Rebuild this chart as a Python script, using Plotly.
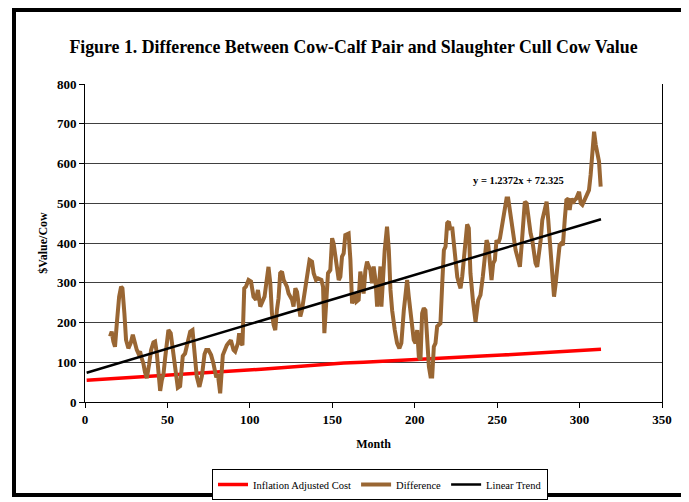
import numpy as np
import plotly.graph_objects as go

# ---------------- data ----------------
diff_months = [
    15.2, 16.2, 17.2, 18.2, 19.3, 20.7, 21.9, 22.7, 23.9, 24.9, 26.3, 27.7, 29.0, 30.0,
    31.4, 32.4, 33.4, 34.4, 35.4, 36.4, 37.5, 38.9, 40.1, 41.5, 42.5, 43.5, 44.5, 45.6,
    46.6, 47.6, 48.6, 49.6, 50.6, 52.0, 53.6, 55.0, 56.3, 57.7, 59.3, 60.7, 62.1, 63.8,
    65.2, 66.4, 67.8, 69.4, 70.9, 72.5, 73.5, 74.9, 76.5, 77.9, 79.6, 80.6, 82.0, 83.6,
    84.5, 86.0, 87.0, 88.5, 90.1, 91.1, 92.8, 93.5, 94.6, 95.5, 96.6, 97.6, 99.2, 100.7,
    102.2, 103.7, 104.9, 106.3, 108.9, 110.4, 111.3, 112.4, 113.4, 114.4, 115.4, 116.4,
    117.4, 118.4, 119.5, 120.5, 121.5, 122.5, 123.5, 124.5, 125.6, 126.5, 127.6, 128.6,
    130.6, 131.6, 133.0, 134.7, 136.2, 137.7, 138.7, 140.1, 141.3, 143.4, 144.4, 145.2,
    146.2, 147.4, 148.8, 149.9, 150.8, 151.9, 153.9, 154.9, 155.9, 156.9, 157.9, 159.9,
    161.0, 162.0, 163.6, 164.6, 166.0, 167.0, 168.0, 169.0, 170.1, 171.1, 172.1, 173.1,
    174.1, 175.1, 176.2, 177.2, 178.2, 179.2, 179.8, 180.6, 181.8, 183.2, 184.3, 185.3,
    186.3, 187.9, 189.3, 190.7, 191.9, 193.4, 194.4, 195.4, 196.4, 197.4, 198.4, 199.4,
    200.5, 201.5, 202.5, 203.5, 204.5, 205.5, 206.5, 207.5, 208.6, 209.6, 210.6, 211.6,
    212.6, 213.6, 214.6, 215.6, 216.7, 217.7, 218.7, 219.7, 220.7, 221.7, 222.7, 223.7,
    224.8, 225.8, 226.8, 227.8, 228.8, 229.8, 230.8, 231.8, 232.8, 233.8, 235.3, 236.9,
    238.5, 239.9, 241.3, 242.5, 243.6, 244.6, 245.6, 246.6, 247.6, 248.6, 249.6, 250.6,
    251.7, 252.7, 253.7, 254.7, 255.7, 256.7, 257.7, 259.2, 261.2, 262.8, 263.8, 264.8,
    265.8, 266.8, 267.9, 268.9, 270.3, 271.3, 272.3, 273.3, 274.3, 275.4, 276.4, 277.4,
    278.8, 280.0, 281.0, 282.0, 283.5, 284.5, 285.5, 286.5, 287.9, 288.9, 289.9, 291.0,
    292.0, 293.2, 294.0, 295.0, 296.0, 297.0, 298.0, 299.7, 300.7, 301.7, 302.7, 303.7,
    304.7, 305.7, 306.7, 307.8, 308.8, 309.8, 310.8, 311.8, 312.8,
]
diff_values = [
    165, 177, 152, 139, 198, 265, 290, 286, 223, 156, 135, 148, 169, 148,
    131, 122, 127, 110, 97, 75, 60, 95, 131, 150, 152, 125, 75, 28,
    55, 70, 110, 160, 181, 173, 122, 60, 36, 40, 115, 122, 148, 177,
    181, 122, 64, 38, 65, 120, 131, 131, 118, 97, 62, 70, 22, 118,
    130, 143, 148, 155, 131, 127, 148, 173, 148, 143, 286, 290, 307, 303,
    265, 257, 282, 240, 265, 307, 340, 299, 223, 194, 181, 231,
    261, 324, 328, 307, 299, 290, 273, 265, 257, 240, 286, 277,
    215, 231, 265, 315, 357, 353, 324, 307, 311, 307, 290, 173,
    265, 324, 332, 412, 399, 366, 307, 315, 366, 374, 420, 424,
    357, 248, 273, 252, 257, 328, 299, 273, 332, 353, 341, 332,
    299, 341, 307, 240, 282, 341, 240, 315, 382, 441, 382, 282,
    231, 181, 148, 135, 148, 231, 269, 307, 265, 231, 190, 156,
    148, 181, 114, 106, 223, 236, 231, 139, 89, 64, 64, 139,
    148, 190, 194, 198, 299, 382, 391, 450, 454, 433, 441, 391,
    341, 315, 299, 286, 315, 357, 424, 447, 437, 324, 256, 202,
    256, 269, 315, 374, 407, 395, 349, 307, 349, 357, 407, 399,
    412, 441, 458, 483, 512, 512, 483, 424, 382, 357, 340, 391,
    458, 504, 500, 458, 424, 407, 378, 349, 340, 374, 407, 458,
    479, 504, 458, 399, 340, 265, 298, 340, 395, 399, 395, 458,
    508, 512, 483, 512, 500, 508, 512, 529, 500, 496, 504, 512,
    525, 533, 571, 642, 680, 647, 617, 605, 542,
]
infl_months = [1, 13, 25, 37, 49, 61, 73, 85, 97, 109, 121, 133, 145, 157,
               169, 181, 193, 205, 217, 229, 241, 253, 265, 277, 289, 301, 313]
infl_values = [55, 57, 61, 64, 67, 70, 72, 76, 80, 83, 87, 91, 95, 98,
               100, 103, 106, 109, 112, 114, 116, 118, 121, 123, 125, 129, 133]
trend_slope = 1.2372
trend_intercept = 72.325
trend_months = [1, 313]
trend_label = "y = 1.2372x + 72.325"
x_ticks = [0, 50, 100, 150, 200, 250, 300, 350]
y_ticks = [0, 100, 200, 300, 400, 500, 600, 700, 800]

title_text = "Figure 1. Difference Between Cow-Calf Pair and Slaughter Cull Cow Value"

# ---------------- layout geometry ----------------
# The page body has an 8px margin, so the figure starts at (8, 8) in the window.
OFF = 8
WIN_W, WIN_H = 689, 502
W, H = WIN_W - OFF, WIN_H - OFF
# target plot area in window pixels: x 85..662, y 84..402
L, R, T, B = 85 - OFF, WIN_W - 662, 84 - OFF, WIN_H - 402
PW, PH = W - L - R, H - T - B


def pxx(px):  # window px -> paper x
    return (px - OFF - L) / PW


def pxy(py):  # window px -> paper y
    return (H - B - (py - OFF)) / PH


FONT = "Liberation Serif"

trend_x = np.array(trend_months, dtype=float)
trend_y = trend_slope * trend_x + trend_intercept

fig = go.Figure()
fig.add_trace(go.Scatter(x=infl_months, y=infl_values, mode="lines",
                         name="Inflation Adjusted Cost",
                         line=dict(color="#ff0000", width=3.5)))
fig.add_trace(go.Scatter(x=diff_months, y=diff_values, mode="lines",
                         name="Difference",
                         line=dict(color="#996633", width=4)))
fig.add_trace(go.Scatter(x=trend_x, y=trend_y, mode="lines",
                         name="Linear Trend",
                         line=dict(color="#000000", width=2.5)))

fig.add_annotation(x=263, y=556, xref="x", yref="y", text=trend_label,
                   showarrow=False,
                   font=dict(family=FONT, size=10.5, color="black", weight="bold"))

# outer thick frame
fig.add_shape(type="rect", xref="paper", yref="paper",
              x0=pxx(14), x1=pxx(685), y0=pxy(495), y1=pxy(10),
              line=dict(color="black", width=4), fillcolor="rgba(0,0,0,0)",
              layer="above")

fig.update_layout(
    width=W, height=H,
    margin=dict(l=L, r=R, t=T, b=B, autoexpand=False),
    paper_bgcolor="white", plot_bgcolor="white",
    title=dict(text=title_text, x=(353.5 - OFF) / W, xref="container", xanchor="center",
               y=1 - (47 - OFF) / H, yref="container", yanchor="middle",
               font=dict(family=FONT, size=17.8, color="black", weight="bold")),
    showlegend=True,
    legend=dict(orientation="h", x=pxx(380), xanchor="center",
                y=pxy(469), yanchor="top",
                bordercolor="black", borderwidth=1, bgcolor="white",
                font=dict(family=FONT, size=10.5, color="black"),
                itemwidth=30, tracegroupgap=0),
    xaxis=dict(range=[0, 350], tickvals=x_ticks, ticks="outside", ticklen=5,
               tickcolor="black", showline=True, linecolor="black", linewidth=1,
               showgrid=False, zeroline=False,
               tickfont=dict(family=FONT, size=13, color="black", weight="bold"),
               title=dict(text="Month", standoff=14,
                          font=dict(family=FONT, size=12, color="black", weight="bold"))),
    yaxis=dict(range=[0, 800], tickvals=y_ticks, ticks="outside", ticklen=5,
               tickcolor="black", showline=True, linecolor="black", linewidth=1,
               mirror=True, showgrid=True, gridcolor="#404040", gridwidth=1,
               zeroline=False,
               tickfont=dict(family=FONT, size=13, color="black", weight="bold"),
               title=dict(text="$Value/Cow", standoff=6,
                          font=dict(family=FONT, size=12, color="black", weight="bold"))),
)

fig.write_html("out.html")
